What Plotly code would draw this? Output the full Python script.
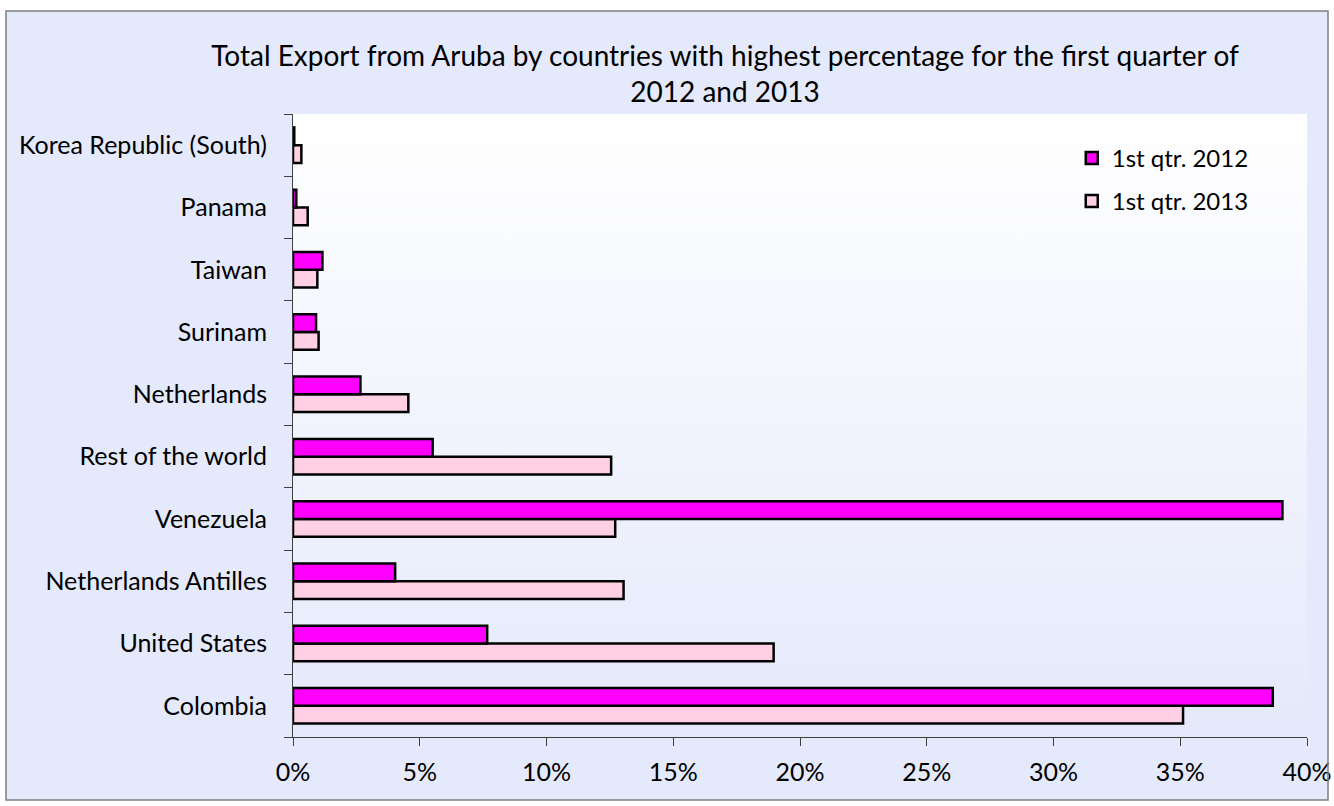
import base64

import plotly.graph_objects as go

COUNTRIES = [
    "Colombia", "United States", "Netherlands Antilles", "Venezuela",
    "Rest of the world", "Netherlands", "Surinam", "Taiwan", "Panama",
    "Korea Republic (South)",
]
Q1_2012 = [38.65, 7.66, 4.03, 39.03, 5.51, 2.66, 0.91, 1.16, 0.13, 0.05]
Q1_2013 = [35.11, 18.96, 13.04, 12.71, 12.55, 4.55, 1.01, 0.96, 0.58, 0.33]
TICKS = [0, 5, 10, 15, 20, 25, 30, 35, 40]

FONT = "Lato"
PAPER = "#E4E9FC"


def svg_src(top: str, bottom: str) -> str:
    svg = (
        "<svg xmlns='http://www.w3.org/2000/svg' width='10' height='100' "
        "viewBox='0 0 10 100' preserveAspectRatio='none'>"
        "<defs><linearGradient id='g' x1='0' y1='0' x2='0' y2='1'>"
        f"<stop offset='0' stop-color='{top}'/>"
        f"<stop offset='1' stop-color='{bottom}'/>"
        "</linearGradient></defs>"
        "<rect width='10' height='100' fill='url(#g)'/></svg>"
    )
    return "data:image/svg+xml;base64," + base64.b64encode(svg.encode()).decode()


# chart-area box in paper units (plot area is 1014 x 623 px, offset 293, 114)
bx0, bx1 = (6 - 293) / 1014, (1328 - 293) / 1014
by0, by1 = (737 - 800) / 623, (737 - 11) / 623

fig = go.Figure()
fig.add_trace(go.Bar(
    y=COUNTRIES, x=Q1_2013, orientation="h", name="1st qtr. 2013",
    marker=dict(color="#FFD0E4", line=dict(color="black", width=2.5)),
    legendgroup="b", legendrank=2,
))
fig.add_trace(go.Bar(
    y=COUNTRIES, x=Q1_2012, orientation="h", name="1st qtr. 2012",
    marker=dict(color="#FF00FF", line=dict(color="black", width=2.5)),
    legendgroup="a", legendrank=1,
))

fig.update_layout(
    width=1334, height=806,
    barmode="group", bargap=0.43, bargroupgap=0,
    paper_bgcolor="white", plot_bgcolor="rgba(0,0,0,0)",
    margin=dict(l=293, r=27, t=114, b=69),
    font=dict(family=FONT, size=25, color="black"),
    title=dict(
        text="Total Export from Aruba by countries with highest percentage for the first quarter of<br>2012 and 2013",
        x=725 / 1334, xanchor="center", xref="container",
        y=1 - 66 / 806, yanchor="top", yref="container",
        font=dict(family=FONT, size=28, color="black"),
    ),
    legend=dict(
        x=0.768, y=0.965, xanchor="left", yanchor="top",
        bgcolor="rgba(0,0,0,0)", traceorder="grouped", tracegroupgap=9,
        font=dict(family=FONT, size=24, color="black"),
    ),
    xaxis=dict(
        range=[0, 40], tickvals=TICKS, ticktext=[f"{t}%" for t in TICKS],
        showgrid=False, zeroline=False, automargin=False,
        showline=True, linecolor="#404040", linewidth=1,
        ticks="outside", ticklen=8, tickcolor="#404040",
        ticklabelstandoff=5,
    ),
    yaxis=dict(
        type="category", categoryorder="array", categoryarray=COUNTRIES,
        showgrid=False, showline=True, linecolor="#404040", linewidth=1,
        ticks="outside", ticklen=8, tickcolor="#404040", tickson="boundaries",
        ticklabelstandoff=20, automargin=False,
    ),
    shapes=[dict(
        type="rect", xref="paper", yref="paper",
        x0=bx0, x1=bx1, y0=by0, y1=by1,
        line=dict(color="#7F7F7F", width=1.5), layer="above",
    )],
    images=[
        dict(source=svg_src(PAPER, PAPER), xref="paper", yref="paper",
             x=bx0, y=by1, sizex=bx1 - bx0, sizey=by1 - by0,
             xanchor="left", yanchor="top", sizing="stretch", layer="below"),
        dict(source=svg_src("#FFFFFF", "#E4E9FB"), xref="paper", yref="paper",
             x=0, y=1, sizex=1, sizey=1, xanchor="left", yanchor="top",
             sizing="stretch", layer="below"),
    ],
)

fig.write_html(
    "out.html",
    config={"displayModeBar": False},
    post_script="document.body.style.margin='0';document.body.style.overflow='hidden';",
)
